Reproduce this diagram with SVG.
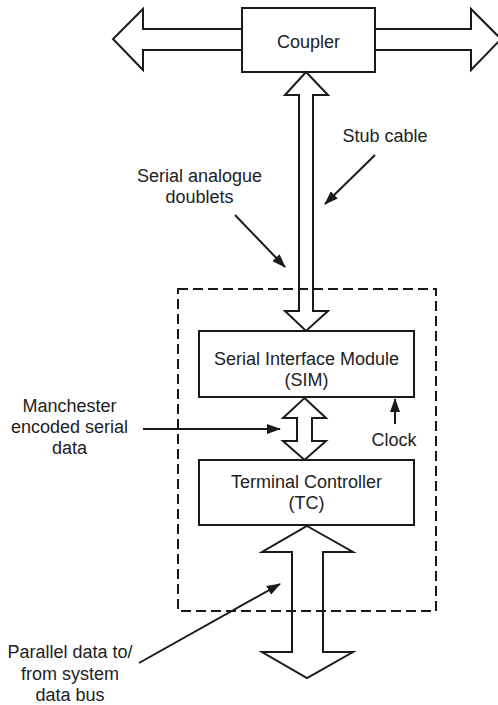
<svg xmlns="http://www.w3.org/2000/svg" width="498" height="705" viewBox="0 0 498 705">
<defs>
<style>
.box{fill:#fff;stroke:#1a1a1a;stroke-width:2}
.bus{fill:none;stroke:#1a1a1a;stroke-width:2;stroke-linejoin:miter}
.ptr{fill:none;stroke:#1a1a1a;stroke-width:2}
.dash{fill:none;stroke:#1a1a1a;stroke-width:2;stroke-dasharray:10 5}
text{font-family:"Liberation Sans",Arial,Helvetica,sans-serif;font-size:18px;fill:#222;text-anchor:middle}
</style>
<marker id="ah" viewBox="0 0 14 10" refX="13" refY="5" markerWidth="14" markerHeight="10" markerUnits="userSpaceOnUse" orient="auto">
<path d="M0,0 L14,5 L0,10 Z" fill="#1a1a1a"/>
</marker>
</defs>
<rect width="498" height="705" fill="#fff"/>

<g id="boundary">
<rect class="dash" x="178" y="289" width="258" height="322"/>
</g>

<g id="coupler">
<rect class="box" x="242" y="8" width="133" height="64"/>
<text x="308.5" y="48">Coupler</text>
</g>

<g id="sim">
<rect class="box" x="199" y="331" width="215" height="66"/>
<text x="306.5" y="365">Serial Interface Module</text>
<text x="306.5" y="386">(SIM)</text>
</g>

<g id="tc">
<rect class="box" x="199" y="460" width="215" height="65"/>
<text x="306.5" y="488">Terminal Controller</text>
<text x="306.5" y="509">(TC)</text>
</g>

<g id="connectors">
<path class="bus" d="M242,29 H143 V9 L113,39 L143,70 V50 H242"/>
<path class="bus" d="M375,29 H471 V9 L501,39 L471,70 V50 H375"/>
<path class="bus" d="M306,72 L328,95 H313 V311 H328 L306,331 L285,311 H299 V95 H285 Z"/>
<path class="bus" d="M304.5,398 L326,418 H312 V441 H326 L304.5,460 L283,441 H297 V418 H283 Z"/>
<path class="bus" d="M307,526 L353,552 H323 V652 H353 L307,678 L262,652 H292 V552 H262 Z"/>
<line class="ptr" x1="375" y1="155" x2="325" y2="204" marker-end="url(#ah)"/>
<line class="ptr" x1="235" y1="215" x2="285" y2="267" marker-end="url(#ah)"/>
<line class="ptr" x1="143" y1="429" x2="280" y2="429" marker-end="url(#ah)"/>
<line class="ptr" x1="139" y1="663" x2="280" y2="584" marker-end="url(#ah)"/>
<line class="ptr" x1="395" y1="424" x2="395" y2="399" marker-end="url(#ah)"/>
</g>

<g id="labels">
<text x="385" y="142">Stub cable</text>
<text x="199.5" y="182">Serial analogue</text>
<text x="199.5" y="203">doublets</text>
<text x="69.5" y="412">Manchester</text>
<text x="69.5" y="433">encoded serial</text>
<text x="69.5" y="454">data</text>
<text x="394" y="446">Clock</text>
<text x="70" y="658">Parallel data to/</text>
<text x="70" y="680">from system</text>
<text x="70" y="701">data bus</text>
</g>
</svg>
